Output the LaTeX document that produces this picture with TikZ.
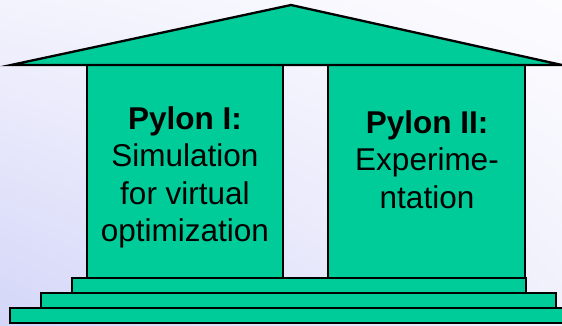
\documentclass[tikz,border=0pt]{standalone}
\usepackage{fontspec}
\setmainfont{Liberation Sans}
\usetikzlibrary{shadings}
\definecolor{pgreen}{RGB}{0,204,153}
\definecolor{bgll}{RGB}{212,214,248}
\definecolor{bgul}{RGB}{243,243,253}
\definecolor{bglr}{RGB}{240,240,252}
\definecolor{bgur}{RGB}{252,252,255}
\tikzset{
  part/.style={fill=pgreen, draw=black, line width=2.3pt, line join=miter},
  ptext/.style={align=center, inner sep=0pt, anchor=north, font=\fontsize{31.5}{37.5}\selectfont}
}
\begin{document}
\begin{tikzpicture}[x=1pt,y=-1pt]
\useasboundingbox (0,0) rectangle (562,325);
\shade[lower left=bgll, upper left=bgul, lower right=bglr, upper right=bgur] (0,0) rectangle (562,325);
% steps
\draw[part] (10,308) rectangle (570,323);
\draw[part] (41,293) rectangle (556,308);
\draw[part] (72,278) rectangle (526,293);
% pillars
\draw[part] (87,65) rectangle (283,278);
\draw[part] (328,65) rectangle (525,278);
% roof
\draw[part] (11,65) -- (291,5) -- (562,65) -- cycle;
% texts
\node[ptext] (p1) at (185,106) {\textbf{Pylon I:}\\Simulation\\for virtual\\optimization};
\node[ptext] (p2) at (427,110) {\textbf{Pylon II:}\\Experime-\\ntation};
\end{tikzpicture}
\end{document}
